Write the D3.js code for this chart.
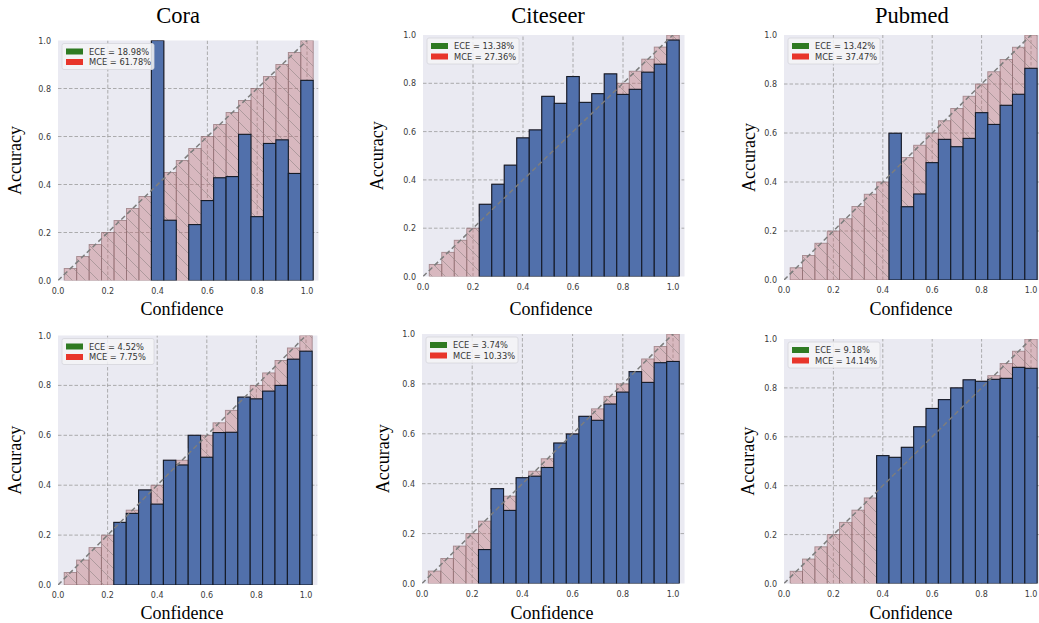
<!DOCTYPE html>
<html>
<head>
<meta charset="utf-8">
<script src="https://cdn.jsdelivr.net/npm/d3@7"></script>
<style>
  body { margin: 0; background: #fff; }
  .tick-label { font-family: 'DejaVu Sans', sans-serif; font-size: 8px; fill: #3a3a3a; }
  .legend-label { font-family: 'DejaVu Sans', sans-serif; font-size: 8.3px; fill: #333; }
  .title { font-family: 'Liberation Serif', 'Times New Roman', serif; font-size: 22.5px; fill: #000; }
  .axis-title { font-family: 'Liberation Serif', 'Times New Roman', serif; font-size: 18px; fill: #000; }
</style>
</head>
<body>
<svg id="chart" width="1039" height="623"></svg>
<script>
// bin centres (confidence) shared by every panel
const binCenters = [0.05, 0.10, 0.15, 0.20, 0.25, 0.30, 0.35, 0.40, 0.45, 0.50,
                    0.55, 0.60, 0.65, 0.70, 0.75, 0.80, 0.85, 0.90, 0.95, 1.00];
const tickValues = [0.0, 0.2, 0.4, 0.6, 0.8, 1.0];
const datasets = ['Cora', 'Citeseer', 'Pubmed'];

// accuracy per bin, null = empty bin
const coraBefore = [null, null, null, null, null, null, null, 1.0, 0.251, null,
                    0.233, 0.333, 0.428, 0.433, 0.609, 0.266, 0.571, 0.586, 0.446, 0.834];
const citeseerBefore = [null, null, null, null, 0.299, 0.382, 0.461, 0.574, 0.607, 0.746,
                        0.717, 0.828, 0.721, 0.757, 0.839, 0.754, 0.775, 0.846, 0.879, 0.979];
const pubmedBefore = [null, null, null, null, null, null, null, null, 0.599, 0.299,
                      0.351, 0.479, 0.574, 0.544, 0.578, 0.683, 0.635, 0.713, 0.758, 0.864];
const coraAfter = [null, null, null, null, 0.251, 0.287, 0.381, 0.324, 0.500, 0.481,
                   0.600, 0.512, 0.611, 0.612, 0.753, 0.746, 0.777, 0.800, 0.905, 0.937];
const citeseerAfter = [null, null, null, null, 0.136, 0.380, 0.293, 0.424, 0.430, 0.465,
                       0.563, 0.599, 0.670, 0.654, 0.719, 0.767, 0.849, 0.806, 0.885, 0.890];
const pubmedAfter = [null, null, null, null, null, null, null, 0.523, 0.516, 0.557,
                     0.641, 0.716, 0.752, 0.800, 0.833, 0.827, 0.835, 0.839, 0.884, 0.880];

const eceLabels = ['ECE = 18.98%', 'ECE = 13.38%', 'ECE = 13.42%', 'ECE = 4.52%', 'ECE = 3.74%', 'ECE = 9.18%'];
const mceLabels = ['MCE = 61.78%', 'MCE = 27.36%', 'MCE = 37.47%', 'MCE = 7.75%', 'MCE = 10.33%', 'MCE = 14.14%'];

// panel placement on the page
const panels = [
  { acc: coraBefore,     x0: 58,  x1: 307,  top: 40.5, bottom: 280.5, xlabX: 182, xlabY: 315, ylabX: 15,  title: datasets[0], titleX: 178 },
  { acc: citeseerBefore, x0: 423, x1: 673,  top: 35,   bottom: 276.5, xlabX: 551, xlabY: 315, ylabX: 377, title: datasets[1], titleX: 548 },
  { acc: pubmedBefore,   x0: 784, x1: 1031, top: 35,   bottom: 280,   xlabX: 911, xlabY: 315, ylabX: 749, title: datasets[2], titleX: 912 },
  { acc: coraAfter,      x0: 58,  x1: 306,  top: 335.5, bottom: 585,  xlabX: 182, xlabY: 618.5, ylabX: 15 },
  { acc: citeseerAfter,  x0: 422, x1: 673,  top: 334,  bottom: 583.5, xlabX: 552, xlabY: 618.5, ylabX: 383 },
  { acc: pubmedAfter,    x0: 784, x1: 1031, top: 339,  bottom: 583.5, xlabX: 911, xlabY: 618.5, ylabX: 748 }
];

const BLUE = '#5170ab';
const BG = '#eaeaf2';
const X_MAX = 1.046;
const BIN_W = 0.05;

const svg = d3.select('#chart');
const defs = svg.append('defs');
const hatch = defs.append('pattern')
  .attr('id', 'hatch')
  .attr('patternUnits', 'userSpaceOnUse')
  .attr('width', 13)
  .attr('height', 13);
hatch.append('path')
  .attr('d', 'M-1,-1 L14,14 M-1,12 L1,14 M12,-1 L14,1')
  .attr('stroke', '#9c8c8e')
  .attr('stroke-width', 0.7);

panels.forEach((p, i) => {
  const x = d3.scaleLinear().domain([0, 1]).range([p.x0, p.x1]);
  const y = d3.scaleLinear().domain([0, 1]).range([p.bottom, p.top]);
  const xRight = Math.min(x(X_MAX), 1039);
  const g = svg.append('g');

  const clipId = `clip${i}`;
  defs.append('clipPath').attr('id', clipId)
    .append('rect')
    .attr('x', x(0)).attr('y', y(1))
    .attr('width', xRight - x(0)).attr('height', y(0) - y(1));

  g.append('rect')
    .attr('x', x(0)).attr('y', y(1))
    .attr('width', xRight - x(0)).attr('height', y(0) - y(1))
    .attr('fill', BG);

  const plot = g.append('g').attr('clip-path', `url(#${clipId})`);

  // grid
  plot.selectAll('.vgrid')
    .data(tickValues.filter(t => t > 0))
    .enter().append('line')
    .attr('x1', d => x(d)).attr('x2', d => x(d))
    .attr('y1', y(0)).attr('y2', y(1))
    .attr('stroke', '#9a9a9a').attr('stroke-width', 0.8)
    .attr('stroke-dasharray', '3.5,2');
  plot.selectAll('.hgrid')
    .data(tickValues.filter(t => t > 0 && t < 1))
    .enter().append('line')
    .attr('x1', x(0)).attr('x2', xRight)
    .attr('y1', d => y(d)).attr('y2', d => y(d))
    .attr('stroke', '#9a9a9a').attr('stroke-width', 0.8)
    .attr('stroke-dasharray', '3.5,2');

  const bins = binCenters.map((c, k) => ({ c, a: p.acc[k] }));

  // gap bars
  const gaps = plot.selectAll('.gap')
    .data(bins)
    .enter().append('g');
  gaps.append('rect')
    .attr('x', d => x(d.c - BIN_W / 2))
    .attr('width', x(BIN_W) - x(0))
    .attr('y', d => y(Math.max(d.c, d.a || 0)))
    .attr('height', d => Math.abs(y(d.a || 0) - y(d.c)))
    .attr('fill', '#be6e74')
    .attr('fill-opacity', 0.4)
    .attr('stroke', '#8c6a6e')
    .attr('stroke-opacity', 0.7)
    .attr('stroke-width', 0.9);
  gaps.append('rect')
    .attr('x', d => x(d.c - BIN_W / 2))
    .attr('width', x(BIN_W) - x(0))
    .attr('y', d => y(Math.max(d.c, d.a || 0)))
    .attr('height', d => Math.abs(y(d.a || 0) - y(d.c)))
    .attr('fill', 'url(#hatch)');

  // accuracy bars
  plot.selectAll('.bar')
    .data(bins.filter(d => d.a !== null))
    .enter().append('rect')
    .attr('x', d => x(d.c - BIN_W / 2))
    .attr('width', x(BIN_W) - x(0))
    .attr('y', d => y(d.a))
    .attr('height', d => y(0) - y(d.a))
    .attr('fill', BLUE)
    .attr('stroke', '#141a26')
    .attr('stroke-width', 1.1);

  // perfect calibration
  plot.append('line')
    .attr('x1', x(0)).attr('y1', y(0))
    .attr('x2', x(1)).attr('y2', y(1))
    .attr('stroke', '#7d7d7d')
    .attr('stroke-width', 1.5)
    .attr('stroke-dasharray', '5,3');

  // tick labels
  g.selectAll('.xt')
    .data(tickValues)
    .enter().append('text')
    .attr('class', 'tick-label')
    .attr('x', d => x(d)).attr('y', y(0) + 13)
    .attr('text-anchor', 'middle')
    .text(d => d3.format('.1f')(d));
  g.selectAll('.yt')
    .data(tickValues)
    .enter().append('text')
    .attr('class', 'tick-label')
    .attr('x', x(0) - 7).attr('y', d => y(d) + 3)
    .attr('text-anchor', 'end')
    .text(d => d3.format('.1f')(d));

  // axis titles
  g.append('text')
    .attr('class', 'axis-title')
    .attr('x', p.xlabX).attr('y', p.xlabY)
    .attr('text-anchor', 'middle')
    .text('Confidence');
  g.append('text')
    .attr('class', 'axis-title')
    .attr('transform', `translate(${p.ylabX + 6},${(y(0) + y(1)) / 2}) rotate(-90)`)
    .attr('text-anchor', 'middle')
    .text('Accuracy');

  if (p.title) {
    g.append('text')
      .attr('class', 'title')
      .attr('x', p.titleX).attr('y', 23)
      .attr('text-anchor', 'middle')
      .text(p.title);
  }

  // legend
  const lg = g.append('g').attr('transform', `translate(${x(0) + 4},${y(1) + 3})`);
  lg.append('rect')
    .attr('width', 92).attr('height', 26)
    .attr('rx', 2)
    .attr('fill', '#f4f4f7').attr('fill-opacity', 0.85)
    .attr('stroke', '#d6d6dc').attr('stroke-width', 0.8);
  const items = [
    { label: eceLabels[i], color: '#2f7a22' },
    { label: mceLabels[i], color: '#e8352a' }
  ];
  const rows = lg.selectAll('.item').data(items).enter().append('g')
    .attr('transform', (d, k) => `translate(4,${5 + k * 10.5})`);
  rows.append('rect')
    .attr('width', 17).attr('height', 6)
    .attr('fill', d => d.color);
  rows.append('text')
    .attr('class', 'legend-label')
    .attr('x', 23).attr('y', 6)
    .text(d => d.label);
});
</script>
</body>
</html>
